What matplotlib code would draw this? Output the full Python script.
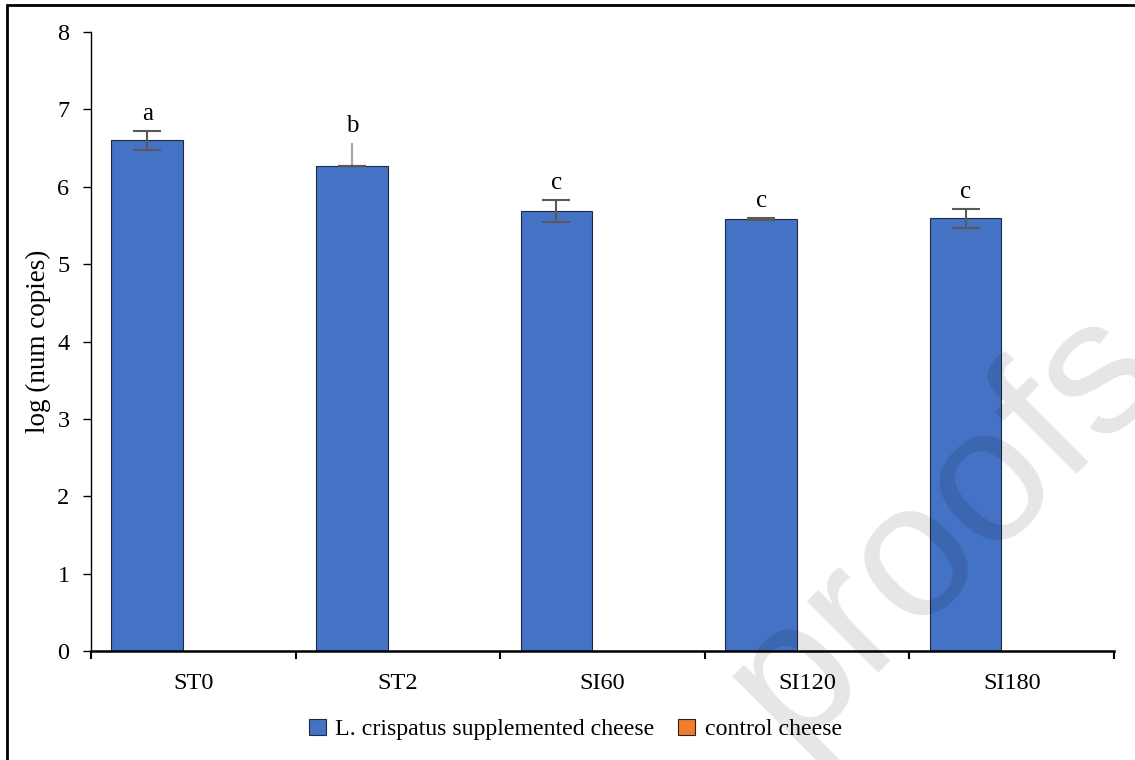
#!/usr/bin/env python3
import matplotlib.pyplot as plt
from matplotlib.patches import Rectangle
import numpy as np

plt.rcParams["font.family"] = ["Liberation Serif", "DejaVu Serif"]

# data
samples = ["ST0", "ST2", "SI60", "SI120", "SI180"]
crispatus = [6.60, 6.27, 5.69, 5.58, 5.59]
err_low = [0.12, 0.0, 0.14, 0.01, 0.12]
err_high = [0.12, 0.29, 0.14, 0.01, 0.12]
control = [0, 0, 0, 0, 0]
letters = ["a", "b", "c", "c", "c"]

blue = "#4472C4"
orange = "#ED7D31"

fig = plt.figure(figsize=(11.35, 7.6), dpi=100)
ax = fig.add_axes([0.0802, 0.1434, 0.9013, 0.8145])

x = np.arange(len(samples))
w = 0.35
ax.bar(x - 0.225, crispatus, w, color=blue, edgecolor="#1f2a40", linewidth=0.8,
       label="L. crispatus supplemented cheese", zorder=2)
ax.bar(x + 0.175, control, w, color=orange, edgecolor="#3a2010", linewidth=0.8,
       label="control cheese", zorder=2)

# error bars (ST2 only has an upper whisker, drawn in light grey)
for i in range(len(samples)):
    xi = x[i] - 0.225
    if err_low[i] == 0:
        ax.errorbar(xi, crispatus[i], yerr=[[0], [err_high[i]]], fmt="none",
                    ecolor="#a6a6a6", elinewidth=1.5, capsize=0, zorder=3)
        ax.errorbar(xi, crispatus[i], yerr=0, fmt="none", ecolor="#595959",
                    elinewidth=1.5, capsize=10, capthick=1.5, zorder=3)
    else:
        ax.errorbar(xi, crispatus[i], yerr=[[err_low[i]], [err_high[i]]], fmt="none",
                    ecolor="#595959", elinewidth=1.5, capsize=10, capthick=1.5, zorder=3)
    ax.text(xi, crispatus[i] + err_high[i] + 0.08, letters[i], ha="center", va="bottom",
            fontsize=18)

ax.set_ylim(0, 8)
ax.set_xlim(-0.5, len(samples) - 0.5)
ax.set_yticks(range(0, 9))
ax.set_ylabel("log (num copies)", fontsize=19.5)
ax.yaxis.set_label_coords(-0.039, 0.5)

# category boundaries carry the ticks, labels sit in the middle
ax.set_xticks(np.arange(-0.5, len(samples)))
ax.set_xticklabels([])
ax.set_xticks(x, minor=True)
ax.set_xticklabels(samples, minor=True)
ax.tick_params(axis="x", which="major", direction="out", length=6, width=1.5)
ax.tick_params(axis="x", which="minor", length=0, pad=16, labelsize=17.5)
ax.tick_params(axis="y", direction="out", length=6, width=1, pad=9.5, labelsize=17.5)

for s in ["top", "right"]:
    ax.spines[s].set_visible(False)
ax.spines["left"].set_linewidth(1)
ax.spines["bottom"].set_linewidth(1.8)

fig.legend(loc="center", bbox_to_anchor=(0.507, 0.04), ncol=2, frameon=False,
           fontsize=17.2, handlelength=0.7, handleheight=0.7, handletextpad=0.4,
           columnspacing=1.0)

# outer frame of the figure
fig.patches.append(Rectangle((7 / 1135, -0.2), 1.2, 1.2 - 5 / 760, fill=False,
                             linewidth=2, edgecolor="black", transform=fig.transFigure))

# watermark
fig.text(945 / 1135, 1 - 525 / 760, "proofs", rotation=45, fontsize=138,
         family="Liberation Sans", color="black", alpha=0.1,
         ha="center", va="center", zorder=10)

plt.savefig("out.png", dpi=100)
